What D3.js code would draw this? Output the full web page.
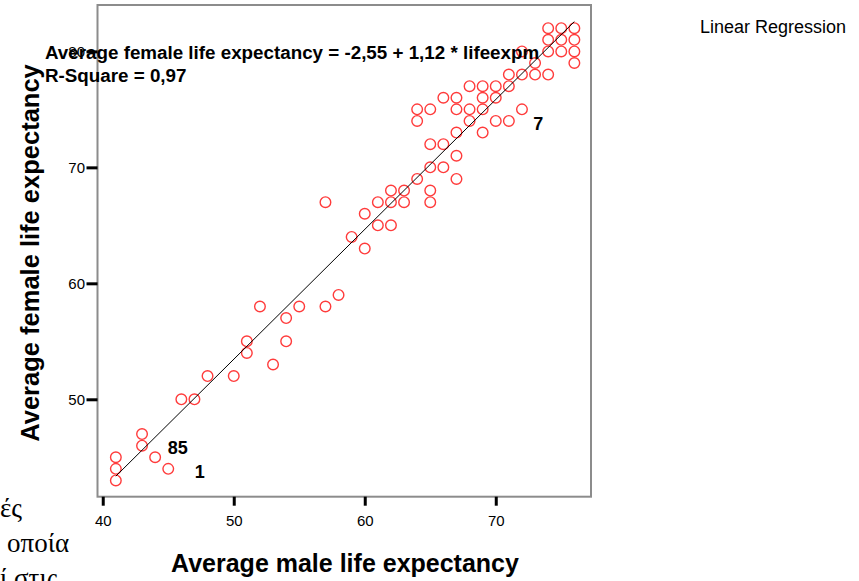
<!DOCTYPE html>
<html>
<head>
<meta charset="utf-8">
<script src="https://cdn.jsdelivr.net/npm/d3@7"></script>
<style>
body { margin: 0; background: #fff; }
svg { display: block; }
text { font-family: Arial, "Liberation Sans", sans-serif; }
</style>
</head>
<body>
<script>
// data (male, female life expectancy)
var lifeexpm = [41, 41, 41, 43, 43, 44, 45, 46, 47, 48, 50, 51, 51, 53, 54, 54, 52, 55, 57, 58,
    57, 59, 60, 60, 61, 62, 61, 62, 62, 63, 63, 64, 65, 65, 65, 66, 67, 67, 65, 66, 67,
    64, 64, 65, 66, 67, 67, 68, 68, 68, 69, 69, 69, 69, 70, 70, 70, 71, 72, 71, 71, 72,
    73, 74, 73, 72, 74, 75, 76, 74, 75, 76, 74, 75, 76, 76];
var lifeexpf = [45, 44, 43, 47, 46, 45, 44, 50, 50, 52, 52, 55, 54, 53, 55, 57, 58, 58, 58, 59,
    67, 64, 63, 66, 65, 65, 67, 67, 68, 68, 67, 69, 68, 67, 70, 70, 69, 71, 72, 72, 73,
    74, 75, 75, 76, 76, 75, 75, 74, 77, 77, 76, 75, 73, 77, 76, 74, 74, 75, 77, 78, 78,
    78, 78, 79, 80, 80, 80, 80, 81, 81, 81, 82, 82, 82, 79];

var fitIntercept = -2.55, fitSlope = 1.12, fitRange = [41, 76];

var xTicks = [40, 50, 60, 70];
var yTicks = [50, 60, 70, 80];

var caseLabels = ["85", "1", "7"];
var caseLabelX = [44.97, 47.03, 72.87];
var caseLabelY = [45.3, 43.2, 73.2];

var greekLines = ["ές", "οποία", "ί στις"];

var svg = d3.select("body").append("svg")
    .attr("width", 859)
    .attr("height", 581);

var plotLeft = 97.5, plotTop = 5, plotW = 493.5, plotH = 491.7;

var x = d3.scaleLinear().domain([39.6, 77.27]).range([plotLeft, plotLeft + plotW]);
var y = d3.scaleLinear().domain([41.6, 84.0]).range([plotTop + plotH, plotTop]);

// leftover text from the document behind the chart
svg.selectAll("text.greek")
    .data(greekLines)
    .enter().append("text")
    .attr("class", "greek")
    .attr("x", function(d, i){ return i == 1 ? 7 : 0; })
    .attr("y", function(d, i){ return 517 + i * 35; })
    .style("font-family", "'Liberation Serif', 'DejaVu Serif', serif")
    .style("font-size", "27px")
    .text(function(d){ return d; });

// frame
svg.append("rect")
    .attr("x", plotLeft)
    .attr("y", plotTop)
    .attr("width", plotW)
    .attr("height", plotH)
    .attr("fill", "none")
    .attr("stroke", "#8c8c8c")
    .attr("stroke-width", 2);

var xAxis = svg.append("g")
    .attr("transform", "translate(0," + (plotTop + plotH) + ")")
    .call(d3.axisBottom(x).tickValues(xTicks).tickSize(9).tickPadding(9.5));
var yAxis = svg.append("g")
    .attr("transform", "translate(" + plotLeft + ",0)")
    .call(d3.axisLeft(y).tickValues(yTicks).tickSize(11).tickPadding(1.5));

[xAxis, yAxis].forEach(function(g){
    g.select(".domain").remove();
    g.selectAll(".tick line").attr("stroke", "#000").attr("stroke-width", 3);
    g.selectAll(".tick text")
        .style("font-family", "Arial, 'Liberation Sans', sans-serif")
        .style("font-size", "15px")
        .attr("fill", "#000");
});

// points
svg.selectAll("circle")
    .data(lifeexpm)
    .enter().append("circle")
    .attr("cx", function(d){ return x(d); })
    .attr("cy", function(d, i){ return y(lifeexpf[i]); })
    .attr("r", 5.3)
    .attr("fill", "none")
    .attr("stroke", "#ff3b3b")
    .attr("stroke-width", 1.4);

// fit line
svg.append("line")
    .attr("x1", x(fitRange[0]))
    .attr("y1", y(fitIntercept + fitSlope * fitRange[0]))
    .attr("x2", x(fitRange[1]))
    .attr("y2", y(fitIntercept + fitSlope * fitRange[1]))
    .attr("stroke", "#000")
    .attr("stroke-width", 1);

svg.selectAll("text.case")
    .data(caseLabels)
    .enter().append("text")
    .attr("class", "case")
    .attr("x", function(d, i){ return x(caseLabelX[i]); })
    .attr("y", function(d, i){ return y(caseLabelY[i]); })
    .style("font-size", "18px")
    .style("font-weight", "bold")
    .text(function(d){ return d; });

svg.append("text")
    .attr("x", 45)
    .attr("y", 58.5)
    .style("font-size", "18.8px")
    .style("font-weight", "bold")
    .text("Average female life expectancy = -2,55 + 1,12 * lifeexpm");

svg.append("text")
    .attr("x", 45)
    .attr("y", 81.5)
    .style("font-size", "18.8px")
    .style("font-weight", "bold")
    .text("R-Square = 0,97");

svg.append("text")
    .attr("x", 700)
    .attr("y", 33)
    .style("font-size", "18px")
    .text("Linear Regression");

svg.append("text")
    .attr("x", 345)
    .attr("y", 572)
    .attr("text-anchor", "middle")
    .style("font-size", "25px")
    .style("font-weight", "bold")
    .text("Average male life expectancy");

svg.append("text")
    .attr("transform", "translate(38.5,253) rotate(-90)")
    .attr("text-anchor", "middle")
    .style("font-size", "25.5px")
    .style("font-weight", "bold")
    .text("Average female life expectancy");
</script>
</body>
</html>
